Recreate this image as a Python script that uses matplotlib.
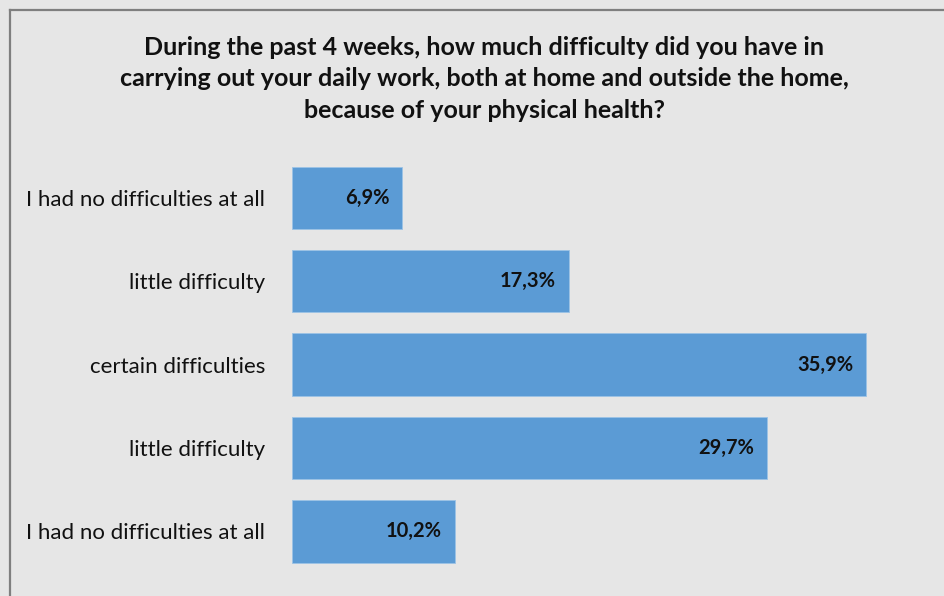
import matplotlib.pyplot as plt

categories = ['I had no difficulties at all', 'little difficulty', 'certain difficulties',
              'little difficulty', 'I had no difficulties at all']
values = [6.9, 17.3, 35.9, 29.7, 10.2]
value_labels = ['6,9%', '17,3%', '35,9%', '29,7%', '10,2%']

title = ('During the past 4 weeks, how much difficulty did you have in\n'
         'carrying out your daily work, both at home and outside the home,\n'
         'because of your physical health?')

bg = '#e6e6e6'
bar_color = '#5b9bd5'

fig = plt.figure(figsize=(9.44, 5.96), dpi=100, facecolor=bg)
ax = fig.add_axes([0.309, 0.0386, 0.678, 0.6994])
ax.set_facecolor(bg)

pos = list(range(len(categories)))
ax.barh(pos, values, height=0.75, color=bar_color, edgecolor='#9cc3e6', linewidth=0.6)
ax.set_ylim(len(categories) - 0.5, -0.5)
ax.set_xlim(0, 40)

for p, v, lab in zip(pos, values, value_labels):
    ax.text(v - 0.8, p, lab, ha='right', va='center', fontsize=14.5,
            fontweight='bold', family='Lato', color='#111111')

ax.set_yticks(pos)
ax.set_yticklabels(categories, family='Lato', fontsize=16, color='#111111')
ax.tick_params(axis='y', length=0, pad=19)
ax.set_xticks([])
for s in ax.spines.values():
    s.set_visible(False)

fig.text(0.513, 0.94, title, ha='center', va='top', fontsize=18, fontweight='bold',
         family='Lato', color='#111111', linespacing=1.46)

# frame of the chart area (left and top edges)
fig.add_artist(plt.Line2D([0.0101, 0.0101], [0, 0.983], transform=fig.transFigure,
                          color='#7f7f7f', linewidth=1.6))
fig.add_artist(plt.Line2D([0.0101, 1.0], [0.983, 0.983], transform=fig.transFigure,
                          color='#7f7f7f', linewidth=1.6))

fig.savefig('out.png', dpi=100, facecolor=bg)
